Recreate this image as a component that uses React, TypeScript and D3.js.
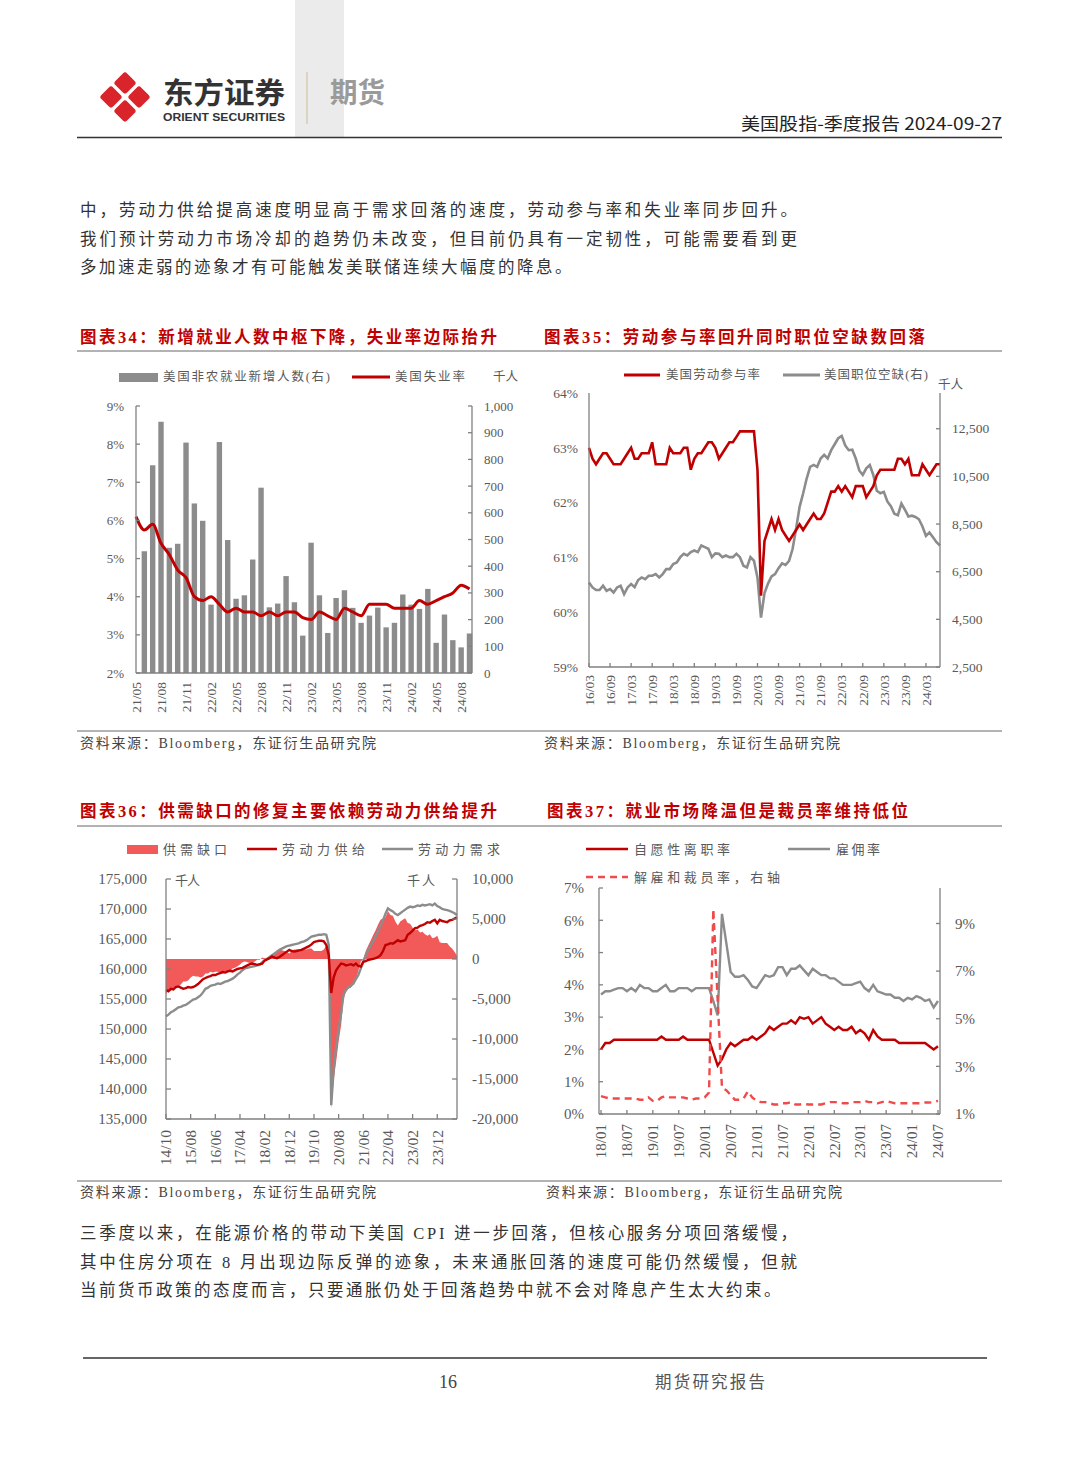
import React from 'react';
import * as d3 from 'd3';

const MIX = "'Liberation Serif','Noto Sans CJK SC',serif";
const CJK = "'Noto Sans CJK SC','Noto Sans',sans-serif";
const RED = '#c00000';
const GRAY = '#8c8c8c';
const AXIS = '#808080';
const TXT = '#595959';
const AREA = '#f25a5a';
const DASH = '#f04a4a';

// ---------------- Chart 34 ----------------
const c34Labels = ['21/05','21/08','21/11','22/02','22/05','22/08','22/11','23/02','23/05','23/08','23/11','24/02','24/05','24/08'];
const c34Payrolls = [456, 778, 941, 469, 484, 863, 635, 570, 256, 865, 498, 278, 291, 425, 694, 246, 260, 363, 265, 140,
  488, 291, 150, 281, 310, 244, 188, 215, 245, 171, 188, 294, 256, 240, 315, 113, 219, 123, 96, 148];
const c34Unemployment = [6.1, 5.75, 5.9, 5.4, 5.1, 4.7, 4.5, 4.0, 3.9, 4.0, 3.8, 3.6, 3.7, 3.6, 3.6, 3.5, 3.6, 3.5, 3.6, 3.6,
  3.45, 3.4, 3.6, 3.5, 3.4, 3.7, 3.6, 3.5, 3.8, 3.8, 3.8, 3.7, 3.7, 3.7, 3.9, 3.8, 3.9, 4.0, 4.1, 4.3, 4.2];
const c34LeftTicks = [2, 3, 4, 5, 6, 7, 8, 9];
const c34RightTicks = [0, 100, 200, 300, 400, 500, 600, 700, 800, 900, 1000];

// ---------------- Chart 35 ----------------
const c35Labels = ['16/03','16/09','17/03','17/09','18/03','18/09','19/03','19/09','20/03','20/09','21/03','21/09','22/03','22/09','23/03','23/09','24/03'];
const c35Participation = [
  63.0, 62.8, 62.7, 62.8, 62.9, 62.9, 62.8, 62.7, 62.7, 62.7,
  62.8, 62.9, 63.0, 62.8, 62.8, 62.9, 62.9, 62.9, 63.1, 62.7, 62.7, 62.7,
  62.7, 63.0, 62.9, 62.9, 62.9, 63.0, 63.0, 62.6, 62.8, 62.9, 62.9, 63.0,
  63.1, 63.1, 63.0, 62.8, 62.9, 63.0, 63.1, 63.1, 63.2, 63.3, 63.3, 63.3,
  63.3, 63.3, 62.6, 60.3, 61.3, 61.5, 61.7, 61.5, 61.7, 61.5, 61.4, 61.3,
  61.4, 61.5, 61.6, 61.5, 61.6, 61.7, 61.8, 61.7, 61.7, 61.8, 62.0, 62.2,
  62.2, 62.3, 62.2, 62.3, 62.2, 62.1, 62.3, 62.3, 62.3, 62.1, 62.2, 62.3,
  62.5, 62.6, 62.6, 62.6, 62.6, 62.6, 62.8, 62.8, 62.7, 62.8, 62.5, 62.5,
  62.5, 62.7, 62.6, 62.5, 62.6, 62.7, 62.7];
const c35Openings = [
  6050, 5840, 5730, 5730, 5910, 5700, 5770, 5630, 5840, 5910,
  5560, 5840, 5980, 5850, 6150, 6260, 6190, 6330, 6330, 6400, 6260, 6400,
  6610, 6610, 6820, 6890, 7110, 7250, 7180, 7320, 7390, 7320, 7600, 7530,
  7460, 7110, 7270, 7250, 7110, 7180, 7110, 7110, 7250, 7110, 6750, 6680,
  7110, 6960, 6250, 4570, 5600, 6000, 6300, 6400, 6650, 6850, 6780, 6950,
  7450, 8300, 9220, 9780, 10400, 10900, 10980, 10900, 11250, 11400, 11250, 11600,
  11850, 12100, 12200, 11800, 11600, 11620, 11250, 10750, 10560, 10840, 10980, 10560,
  9900, 9790, 9850, 9450, 9250, 8930, 8870, 9360, 9100, 8820, 8850, 8800,
  8700, 8400, 8000, 8150, 7950, 7740, 7600];
const c35LeftTicks = [59, 60, 61, 62, 63, 64];
const c35RightTicks = [2500, 4500, 6500, 8500, 10500, 12500];

// ---------------- Chart 36 ----------------
const c36Labels = ['14/10','15/08','16/06','17/04','18/02','18/12','19/10','20/08','21/06','22/04','23/02','23/12'];
// million persons
const c36Supply = [
  156.5, 156.3, 156.7, 156.6, 157.0, 157.1, 156.9, 156.7, 156.8, 157.0,
  156.9, 157.0, 157.2, 157.5, 157.9, 158.3, 158.5, 158.7, 158.8, 159.0,
  159.0, 159.2, 159.3, 159.5, 159.4, 159.6, 159.7, 159.6, 159.8, 160.0,
  160.1, 160.2, 160.4, 160.6, 160.8, 160.9, 160.8, 160.7, 160.8, 160.9,
  161.4, 161.6, 161.8, 162.1, 161.9, 161.8, 162.0, 162.3, 162.6, 162.9,
  163.2, 163.0, 162.9, 163.0, 163.1, 163.2, 163.4, 163.6, 163.8, 164.1,
  164.5, 164.6, 164.7, 164.7, 164.6, 164.0, 162.3, 156.0, 158.6, 159.8,
  160.4, 160.9, 160.8, 160.6, 160.7, 160.8, 160.6, 160.9, 160.5, 160.4,
  161.2, 161.3, 161.5, 161.6, 161.7, 161.8, 162.0, 162.3, 163.0, 164.0,
  164.1, 164.3, 164.2, 164.5, 164.8, 164.6, 164.7, 164.8, 165.7, 166.0,
  166.4, 166.8, 166.9, 167.2, 167.3, 167.5, 167.8, 167.7, 168.0, 168.2,
  167.6, 168.2, 168.0, 167.9, 167.8, 168.1, 168.2, 168.4, 168.6];
const c36Demand = [
  152.1, 152.4, 152.8, 153.0, 153.3, 153.6, 153.7, 153.9, 154.0, 154.3,
  154.6, 154.9, 155.0, 155.3, 155.6, 156.1, 156.7, 156.9, 157.2, 157.3,
  157.4, 157.6, 157.5, 157.7, 157.9, 158.0, 158.2, 158.4, 158.7, 159.1,
  159.4, 159.8, 160.1, 160.2, 160.3, 160.4, 160.5, 160.6, 160.7, 161.1,
  161.5, 161.7, 162.0, 162.3, 162.6, 162.9, 163.2, 163.4, 163.6, 163.8,
  163.9, 164.0, 164.1, 164.2, 164.3, 164.5, 164.6, 164.8, 165.1, 165.4,
  165.5, 165.6, 165.7, 165.7, 165.8, 165.7, 164.0, 137.3, 143.4, 147.0,
  150.1, 152.6, 155.8, 156.5, 157.0, 157.2, 157.6, 158.3, 159.0, 160.1,
  161.2, 162.3, 163.2, 163.9, 164.7, 165.4, 166.3, 167.2, 168.1, 169.2,
  170.1, 169.8, 169.6, 169.2, 169.0, 169.3, 169.6, 169.9, 170.2, 170.4,
  170.3, 170.4, 170.6, 170.5, 170.7, 170.6, 170.7, 170.8, 170.6, 170.9,
  170.5, 170.3, 170.0, 169.9, 169.8, 169.7, 169.5, 169.3, 169.0];
const c36LeftTicks = [135000, 140000, 145000, 150000, 155000, 160000, 165000, 170000, 175000];
const c36RightTicks = [-20000, -15000, -10000, -5000, 0, 5000, 10000];

// ---------------- Chart 37 ----------------
const c37Labels = ['18/01','18/07','19/01','19/07','20/01','20/07','21/01','21/07','22/01','22/07','23/01','23/07','24/01','24/07'];
const c37Quits = [
  2.0, 2.2, 2.2, 2.3, 2.3, 2.3, 2.3, 2.3, 2.3, 2.3, 2.3, 2.3,
  2.3, 2.3, 2.4, 2.3, 2.3, 2.3, 2.3, 2.4, 2.3, 2.3, 2.3, 2.3,
  2.3, 2.3, 1.9, 1.5, 1.7, 2.0, 2.2, 2.1, 2.2, 2.3, 2.3, 2.4,
  2.3, 2.4, 2.5, 2.7, 2.6, 2.7, 2.8, 2.8, 2.9, 2.8, 3.0, 2.95,
  3.0, 2.8, 2.9, 3.0, 2.8, 2.7, 2.6, 2.7, 2.6, 2.6, 2.7, 2.5,
  2.6, 2.5, 2.3, 2.6, 2.4, 2.3, 2.3, 2.3, 2.3, 2.2, 2.2, 2.2,
  2.2, 2.2, 2.2, 2.2, 2.1, 2.0, 2.1];
const c37Hires = [
  3.7, 3.8, 3.8, 3.85, 3.9, 3.9, 3.8, 3.9, 3.8, 4.0, 3.9, 3.9,
  3.8, 3.8, 3.9, 4.0, 3.8, 3.8, 3.9, 3.9, 3.9, 3.8, 3.9, 3.9,
  3.9, 3.9, 3.5, 3.05, 6.2, 5.3, 4.4, 4.25, 4.25, 4.3, 4.15, 3.95,
  3.9, 4.1, 4.3, 4.25, 4.3, 4.55, 4.55, 4.3, 4.5, 4.5, 4.6, 4.45,
  4.3, 4.5, 4.4, 4.3, 4.3, 4.2, 4.2, 4.1, 4.0, 4.0, 4.0, 4.05,
  4.1, 3.9, 3.8, 4.0, 3.8, 3.75, 3.7, 3.7, 3.6, 3.6, 3.5, 3.6,
  3.55, 3.65, 3.6, 3.5, 3.55, 3.3, 3.5];
const c37Layoffs = [
  1.75, 1.7, 1.65, 1.65, 1.65, 1.65, 1.65, 1.65, 1.65, 1.6, 1.6, 1.7,
  1.55, 1.55, 1.7, 1.75, 1.7, 1.7, 1.7, 1.7, 1.65, 1.6, 1.65, 1.65,
  1.7, 1.9, 9.6, 5.8, 2.1, 2.0, 1.8, 1.6, 1.6, 1.65, 1.95, 1.7,
  1.55, 1.5, 1.5, 1.45, 1.4, 1.4, 1.45, 1.45, 1.5, 1.4, 1.4, 1.42,
  1.4, 1.4, 1.4, 1.4, 1.45, 1.5, 1.5, 1.5, 1.45, 1.45, 1.5, 1.5,
  1.5, 1.55, 1.5, 1.5, 1.45, 1.5, 1.55, 1.5, 1.45, 1.45, 1.45, 1.45,
  1.45, 1.45, 1.45, 1.48, 1.48, 1.5, 1.55];
const c37LeftTicks = [0, 1, 2, 3, 4, 5, 6, 7];
const c37RightTicks = [1, 3, 5, 7, 9];

const fmtComma = (v: number) => (v < 0 ? '-' + d3.format(',')(-v) : d3.format(',')(v));
const fmtPct = (v: number) => v + '%';

type Lin = d3.ScaleLinear<number, number>;

function YAxis(p: { x: number; top: number; bottom: number; scale: Lin; ticks: number[]; fmt: (v: number) => string; tick: number; labelX: number; anchor: 'start' | 'end'; size: number; }) {
  return (
    <g>
      <line x1={p.x} x2={p.x} y1={p.top} y2={p.bottom} stroke={AXIS} strokeWidth={1.3} />
      {p.ticks.map((t) => (
        <g key={t}>
          <line x1={p.x} x2={p.x + p.tick} y1={p.scale(t)} y2={p.scale(t)} stroke={AXIS} strokeWidth={1.3} />
          <text x={p.labelX} y={p.scale(t)} dy="0.35em" textAnchor={p.anchor} fontSize={p.size} fontFamily={MIX} fill={TXT}>{p.fmt(t)}</text>
        </g>
      ))}
    </g>
  );
}

function XAxis(p: { y: number; x0: number; x1: number; positions: number[]; labels: string[]; labelY: number; size: number; tick: number; }) {
  return (
    <g>
      <line x1={p.x0} x2={p.x1} y1={p.y} y2={p.y} stroke={AXIS} strokeWidth={1.3} />
      {p.positions.map((px, i) => (
        <g key={i}>
          <line x1={px} x2={px} y1={p.y} y2={p.y + p.tick} stroke={AXIS} strokeWidth={1.3} />
          <text transform={`translate(${px},${p.labelY}) rotate(-90)`} dy="0.35em" textAnchor="end" fontSize={p.size} fontFamily={MIX} fill={TXT}>{p.labels[i]}</text>
        </g>
      ))}
    </g>
  );
}

function Legend(p: { x: number; y: number; text: string; len: number; size?: number }) {
  return (
    <text x={p.x} y={p.y} dy="0.35em" fontSize={p.size ?? 12.5} fontFamily={MIX} fill={TXT} textLength={p.len} lengthAdjust="spacing">{p.text}</text>
  );
}

function Chart34() {
  const x = d3.scaleLinear().domain([0, 40.3]).range([136, 472]);
  const yL = d3.scaleLinear().domain([2, 9]).range([673, 406]);
  const yR = d3.scaleLinear().domain([0, 1000]).range([673, 406]);
  const line = d3.line<number>().x((_, i) => x(i)).y((d) => yL(d)).curve(d3.curveMonotoneX);
  return (
    <g>
      <rect x={119} y={373} width={39} height={9} fill={GRAY} />
      <Legend x={163} y={377} text="美国非农就业新增人数(右)" len={167} />
      <line x1={352} x2={390} y1={377} y2={377} stroke={RED} strokeWidth={3} />
      <Legend x={395} y={377} text="美国失业率" len={70} />
      <Legend x={493} y={377} text="千人" len={25} />
      {c34Payrolls.map((v, i) => (
        <rect key={i} x={x(i + 1) - 2.7} y={yR(v)} width={5.4} height={yR(0) - yR(v)} fill={GRAY} />
      ))}
      <path d={line(c34Unemployment) || ''} fill="none" stroke={RED} strokeWidth={3} />
      <YAxis x={136} top={406} bottom={673} scale={yL} ticks={c34LeftTicks} fmt={fmtPct} tick={4} labelX={124} anchor="end" size={13} />
      <YAxis x={472} top={406} bottom={673} scale={yR} ticks={c34RightTicks} fmt={fmtComma} tick={-4} labelX={484} anchor="start" size={13} />
      <XAxis y={673} x0={136} x1={472} positions={c34Labels.map((_, i) => x(i * 3))} labels={c34Labels} labelY={682} size={13.5} tick={0} />
    </g>
  );
}

function Chart35() {
  const x = d3.scaleLinear().domain([0, 100]).range([589, 940]);
  const yL = d3.scaleLinear().domain([59, 64]).range([667, 393]);
  const yR = d3.scaleLinear().domain([2500, 14000]).range([667, 393]);
  const lineL = d3.line<number>().x((_, i) => x(i)).y((d) => yL(d));
  const lineR = d3.line<number>().x((_, i) => x(i)).y((d) => yR(d));
  return (
    <g>
      <line x1={624} x2={660} y1={375} y2={375} stroke={RED} strokeWidth={3} />
      <Legend x={666} y={375} text="美国劳动参与率" len={94} />
      <line x1={783} x2={820} y1={375} y2={375} stroke={GRAY} strokeWidth={3} />
      <Legend x={824} y={375} text="美国职位空缺(右)" len={104} />
      <Legend x={938} y={385} text="千人" len={25} />
      <path d={lineR(c35Openings) || ''} fill="none" stroke={GRAY} strokeWidth={2.6} />
      <path d={lineL(c35Participation) || ''} fill="none" stroke={RED} strokeWidth={2.6} />
      <YAxis x={589} top={393} bottom={667} scale={yL} ticks={c35LeftTicks} fmt={fmtPct} tick={0} labelX={578} anchor="end" size={13.5} />
      <YAxis x={940} top={393} bottom={667} scale={yR} ticks={c35RightTicks} fmt={fmtComma} tick={-4} labelX={952} anchor="start" size={13.5} />
      <XAxis y={667} x0={589} x1={940} positions={c35Labels.map((_, i) => x(i * 6))} labels={c35Labels} labelY={675} size={13.5} tick={-4} />
    </g>
  );
}

function Chart36() {
  const x = d3.scaleLinear().domain([0, 118]).range([166, 457]);
  const yL = d3.scaleLinear().domain([135000, 175000]).range([1119, 879]);
  const yR = d3.scaleLinear().domain([-20000, 10000]).range([1119, 879]);
  const gap = c36Demand.map((d, i) => (d - c36Supply[i]) * 1000);
  const area = d3.area<number>().x((_, i) => x(i)).y0(yR(0)).y1((d) => yR(d));
  const lineL = d3.line<number>().x((_, i) => x(i)).y((d) => yL(d * 1000));
  return (
    <g>
      <rect x={127} y={845} width={31} height={9} fill={AREA} />
      <Legend x={163} y={849} text="供需缺口" len={64} size={13} />
      <line x1={247} x2={277} y1={849} y2={849} stroke={RED} strokeWidth={2.5} />
      <Legend x={282} y={849} text="劳动力供给" len={83} size={13} />
      <line x1={382} x2={413} y1={849} y2={849} stroke={GRAY} strokeWidth={2.5} />
      <Legend x={418} y={849} text="劳动力需求" len={82} size={13} />
      <Legend x={175} y={880} text="千人" len={25} size={13} />
      <Legend x={407} y={880} text="千人" len={28} size={13} />
      <path d={area(gap) || ''} fill={AREA} />
      <path d={lineL(c36Demand) || ''} fill="none" stroke={GRAY} strokeWidth={2.4} />
      <path d={lineL(c36Supply) || ''} fill="none" stroke={RED} strokeWidth={2.4} />
      <YAxis x={166} top={879} bottom={1119} scale={yL} ticks={c36LeftTicks} fmt={fmtComma} tick={5} labelX={147} anchor="end" size={15} />
      <YAxis x={457} top={879} bottom={1119} scale={yR} ticks={c36RightTicks} fmt={fmtComma} tick={-5} labelX={472} anchor="start" size={15} />
      <XAxis y={1119} x0={166} x1={457} positions={c36Labels.map((_, i) => x(i * 10))} labels={c36Labels} labelY={1130} size={15.5} tick={-5} />
    </g>
  );
}

function Chart37() {
  const x = d3.scaleLinear().domain([0, 78]).range([601, 938]);
  const yL = d3.scaleLinear().domain([0, 7]).range([1114, 888]);
  const yR = d3.scaleLinear().domain([1, 10.49]).range([1114, 888]);
  const lineL = d3.line<number>().x((_, i) => x(i)).y((d) => yL(d));
  const lineR = d3.line<number>().x((_, i) => x(i)).y((d) => yR(d));
  return (
    <g>
      <line x1={586} x2={628} y1={849} y2={849} stroke={RED} strokeWidth={2.5} />
      <Legend x={634} y={849} text="自愿性离职率" len={96} size={13} />
      <line x1={788} x2={830} y1={849} y2={849} stroke={GRAY} strokeWidth={2.5} />
      <Legend x={836} y={849} text="雇佣率" len={44} size={13} />
      <line x1={586} x2={628} y1={877} y2={877} stroke={DASH} strokeWidth={2.5} strokeDasharray="7,5" />
      <Legend x={634} y={877} text="解雇和裁员率，右轴" len={146} size={13} />
      <path d={lineL(c37Hires) || ''} fill="none" stroke={GRAY} strokeWidth={2.4} />
      <path d={lineL(c37Quits) || ''} fill="none" stroke={RED} strokeWidth={2.4} />
      <path d={lineR(c37Layoffs) || ''} fill="none" stroke={DASH} strokeWidth={2.4} strokeDasharray="7,5" />
      <YAxis x={599} top={888} bottom={1114} scale={yL} ticks={c37LeftTicks} fmt={fmtPct} tick={4} labelX={584} anchor="end" size={15} />
      <YAxis x={940} top={888} bottom={1114} scale={yR} ticks={c37RightTicks} fmt={fmtPct} tick={-4} labelX={955} anchor="start" size={15} />
      <XAxis y={1114} x0={599} x1={940} positions={c37Labels.map((_, i) => x(i * 6))} labels={c37Labels} labelY={1124} size={15} tick={-4} />
    </g>
  );
}

const para1 = [
  '中，劳动力供给提高速度明显高于需求回落的速度，劳动参与率和失业率同步回升。',
  '我们预计劳动力市场冷却的趋势仍未改变，但目前仍具有一定韧性，可能需要看到更',
  '多加速走弱的迹象才有可能触发美联储连续大幅度的降息。',
];
const para2 = [
  '三季度以来，在能源价格的带动下美国 CPI 进一步回落，但核心服务分项回落缓慢，',
  '其中住房分项在 8 月出现边际反弹的迹象，未来通胀回落的速度可能仍然缓慢，但就',
  '当前货币政策的态度而言，只要通胀仍处于回落趋势中就不会对降息产生太大约束。',
];

function Para(p: { lines: string[]; y0: number }) {
  return (
    <g>
      {p.lines.map((l, i) => {
        const last = i === p.lines.length - 1;
        return (
          <text key={i} x={80} y={p.y0 + i * 28.5} fontSize={16.5} fontFamily={MIX} fill="#333"
            textLength={last ? undefined : 717} lengthAdjust="spacing" letterSpacing={last ? 2.5 : undefined}>{l}</text>
        );
      })}
    </g>
  );
}

function Title(p: { x: number; y: number; text: string; len: number }) {
  return <text x={p.x} y={p.y} fontSize={16.5} fontWeight="bold" fontFamily={MIX} fill={RED} textLength={p.len} lengthAdjust="spacing">{p.text}</text>;
}

function Source(p: { x: number; y: number }) {
  return <text x={p.x} y={p.y} fontSize={14} fontFamily={MIX} fill="#444" textLength={296} lengthAdjust="spacing">资料来源：Bloomberg，东证衍生品研究院</text>;
}

function Header() {
  const offs = [[0, -14], [-14, 0], [14, 0], [0, 14]];
  return (
    <g>
      <rect x={295} y={0} width={49} height={137} fill="#ebebeb" />
      <g transform="translate(125,97)">
        {offs.map(([dx, dy], i) => (
          <rect key={i} x={-8.3} y={-8.3} width={16.6} height={16.6} rx={3} fill="#d9242b" transform={`translate(${dx},${dy}) rotate(45)`} />
        ))}
      </g>
      <text x={163} y={104} fontSize={29} fontWeight="bold" fontFamily={CJK} fill="#333" textLength={122} lengthAdjust="spacingAndGlyphs">东方证券</text>
      <text x={163} y={121} fontSize={11.5} fontWeight="bold" fontFamily="'Liberation Sans',Arial,sans-serif" fill="#333" textLength={122} lengthAdjust="spacingAndGlyphs">ORIENT SECURITIES</text>
      <line x1={307} x2={307} y1={72} y2={124} stroke="#d2c3a5" strokeWidth={1.2} />
      <text x={330} y={103} fontSize={28} fontWeight="bold" fontFamily={CJK} fill="#9a9a9a" textLength={55} lengthAdjust="spacingAndGlyphs">期货</text>
      <text x={1002} y={130} fontSize={17} fontFamily={CJK} fill="#222" textAnchor="end" textLength={261} lengthAdjust="spacingAndGlyphs">美国股指-季度报告 2024-09-27</text>
      <line x1={77} x2={1002} y1={137.5} y2={137.5} stroke="#333" strokeWidth={1.6} />
    </g>
  );
}

export default function App() {
  return (
    <svg width={1080} height={1466} viewBox="0 0 1080 1466" style={{ position: 'absolute', left: 0, top: 0, background: '#fff' }}>
      <rect x={0} y={0} width={1080} height={1466} fill="#fff" />
      <Header />
      <Para lines={para1} y0={216} />
      <Title x={80} y={343} text="图表34：新增就业人数中枢下降，失业率边际抬升" len={417} />
      <Title x={544} y={343} text="图表35：劳动参与率回升同时职位空缺数回落" len={381} />
      <line x1={77} x2={1002} y1={351} y2={351} stroke="#666" strokeWidth={1} />
      <Chart34 />
      <Chart35 />
      <line x1={77} x2={1002} y1={731} y2={731} stroke="#666" strokeWidth={1} />
      <Source x={80} y={748} />
      <Source x={544} y={748} />
      <Title x={80} y={817} text="图表36：供需缺口的修复主要依赖劳动力供给提升" len={417} />
      <Title x={547} y={817} text="图表37：就业市场降温但是裁员率维持低位" len={361} />
      <line x1={77} x2={1002} y1={826} y2={826} stroke="#666" strokeWidth={1} />
      <Chart36 />
      <Chart37 />
      <line x1={77} x2={1002} y1={1181} y2={1181} stroke="#666" strokeWidth={1} />
      <Source x={80} y={1197} />
      <Source x={546} y={1197} />
      <Para lines={para2} y0={1239} />
      <line x1={83} x2={987} y1={1358} y2={1358} stroke="#333" strokeWidth={1.5} />
      <text x={448} y={1388} fontSize={18} fontFamily={MIX} fill="#444" textAnchor="middle">16</text>
      <text x={655} y={1388} fontSize={16.5} fontFamily={MIX} fill="#555" textLength={110} lengthAdjust="spacing">期货研究报告</text>
    </svg>
  );
}
